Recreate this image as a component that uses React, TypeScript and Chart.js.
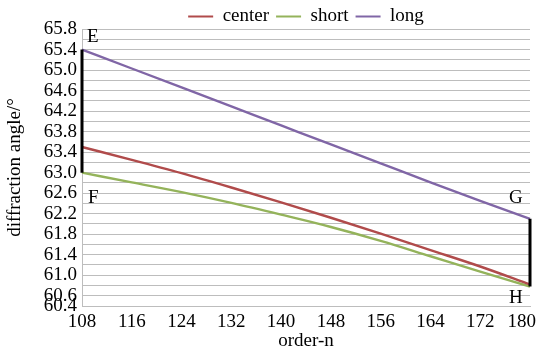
import React, { useEffect, useRef } from "react";
import { Chart, registerables } from "chart.js";

Chart.register(...registerables);

const orders = ["108", "116", "124", "132", "140", "148", "156", "164", "172", "180"];
const centerAngles = [63.5, 63.25, 62.99, 62.71, 62.42, 62.12, 61.81, 61.49, 61.17, 60.82];
const shortAngles = [63.0, 62.81, 62.62, 62.41, 62.18, 61.94, 61.67, 61.37, 61.07, 60.78];
const longAngles = [65.4, 65.03, 64.66, 64.29, 63.92, 63.55, 63.18, 62.81, 62.45, 62.1];
const seriesNames = ["center", "short", "long"];
const seriesColors = ["#B04B4B", "#94B35B", "#8066A6"];
const yGridValues = [
  60.4, 60.6, 60.8, 61.0, 61.2, 61.4, 61.6, 61.8, 62.0, 62.2, 62.4, 62.6, 62.8, 63.0,
  63.2, 63.4, 63.6, 63.8, 64.0, 64.2, 64.4, 64.6, 64.8, 65.0, 65.2, 65.4, 65.6, 65.8,
];
const yTickLabels = [
  "65.8", "65.4", "65.0", "64.6", "64.2", "63.8", "63.4", "63.0", "62.6", "62.2", "61.8",
  "61.4", "61.0", "60.6", "60.4",
];
const xTitle = "order-n";
const yTitle = "diffraction angle/°";
const markerLetters = ["E", "F", "G", "H"];

const FONT = "'Liberation Serif', 'Times New Roman', serif";
const GRID = "#BDBDBD";

const markerPlugin = {
  id: "markers",
  afterDatasetsDraw(chart: any) {
    const { ctx } = chart;
    const xs = chart.scales.x;
    const ys = chart.scales.y;
    const last = orders.length - 1;
    const x0 = xs.getPixelForValue(0);
    const x1 = xs.getPixelForValue(last);
    ctx.save();
    ctx.strokeStyle = "#000";
    ctx.lineWidth = 3;
    ctx.beginPath();
    ctx.moveTo(x0, ys.getPixelForValue(longAngles[0]));
    ctx.lineTo(x0, ys.getPixelForValue(shortAngles[0]));
    ctx.moveTo(x1, ys.getPixelForValue(longAngles[last]));
    ctx.lineTo(x1, ys.getPixelForValue(shortAngles[last]));
    ctx.stroke();
    ctx.fillStyle = "#000";
    ctx.font = "19px " + FONT;
    ctx.textAlign = "left";
    ctx.textBaseline = "alphabetic";
    ctx.fillText(markerLetters[0], x0 + 5, ys.getPixelForValue(yGridValues[yGridValues.length - 1]) + 12.5);
    ctx.fillText(markerLetters[1], x0 + 6, ys.getPixelForValue(shortAngles[0]) + 30);
    ctx.fillText(markerLetters[2], x1 - 21, ys.getPixelForValue(longAngles[last]) - 16);
    ctx.fillText(markerLetters[3], x1 - 21, ys.getPixelForValue(shortAngles[last]) + 16.5);
    ctx.restore();
  },
};

const legendHeightPlugin = {
  id: "legendHeight",
  beforeLayout(chart: any) {
    const lg = chart.legend;
    if (lg && !lg._patched) {
      const orig = lg.fit.bind(lg);
      lg.fit = function () {
        orig();
        this.height = 29;
      };
      lg._patched = true;
    }
  },
};

export default function App() {
  const ref = useRef<HTMLCanvasElement | null>(null);
  useEffect(() => {
    if (!ref.current) return;
    const series = [centerAngles, shortAngles, longAngles];
    const chart = new Chart(ref.current, {
      type: "line",
      data: {
        labels: orders,
        datasets: series.map((d, i) => ({
          label: seriesNames[i],
          data: d,
          borderColor: seriesColors[i],
          backgroundColor: seriesColors[i],
          borderWidth: 2.4,
          pointRadius: 0,
          tension: 0.4,
          cubicInterpolationMode: "monotone" as const,
          fill: false,
        })),
      },
      options: {
        responsive: false,
        animation: false,
        layout: { padding: { left: 0, right: 7, top: 0, bottom: 0 } },
        plugins: {
          legend: {
            position: "top",
            fullSize: false,
            align: "center",
            labels: {
              color: "#000",
              font: { family: FONT, size: 19 },
              boxWidth: 25,
              boxHeight: 2,
              padding: 7,
              generateLabels: (c: any) =>
                (Chart.defaults.plugins.legend.labels as any)
                  .generateLabels(c)
                  .map((l: any) => ({ ...l, lineWidth: 0 })),
            },
          },
          tooltip: { enabled: false },
        },
        scales: {
          x: {
            type: "category",
            offset: false,
            grid: { display: false, drawTicks: false },
            border: { display: true, color: GRID },
            ticks: {
              color: "#000",
              font: { family: FONT, size: 19 },
              padding: 5,
              maxRotation: 0,
              autoSkip: false,
            },
            title: {
              display: true,
              text: xTitle,
              color: "#000",
              font: { family: FONT, size: 19, lineHeight: 0.8 },
              padding: { top: 0, bottom: -1 },
            },
            afterFit: (s: any) => {
              s.height = 42;
              s.paddingLeft = 0;
              s.paddingRight = 0;
              if (!s._labelPatched) {
                const orig = s._computeLabelItems.bind(s);
                s._computeLabelItems = function (area: any) {
                  const items = orig(area);
                  if (items.length) {
                    const it = items[items.length - 1];
                    it.options = { ...it.options, textAlign: "right", translation: [it.options.translation[0] + 6, it.options.translation[1]] };
                  }
                  return items;
                };
                s._labelPatched = true;
              }
            },
          },
          y: {
            type: "linear",
            min: yGridValues[0],
            max: yGridValues[yGridValues.length - 1],
            afterBuildTicks: (s: any) => {
              s.ticks = yGridValues.map((v) => ({ value: v }));
            },
            grid: { color: GRID, drawTicks: false, lineWidth: 1 },
            border: { display: true, color: GRID },
            ticks: {
              color: "#000",
              font: { family: FONT, size: 19 },
              padding: 5,
              autoSkip: false,
              callback: (v: any) => {
                const t = Number(v).toFixed(1);
                return yTickLabels.includes(t) ? t : "";
              },
            },
            title: {
              display: true,
              text: yTitle,
              color: "#000",
              font: { family: FONT, size: 19 },
              padding: { top: 4, bottom: 0 },
            },
            afterFit: (s: any) => {
              s.width = 82;
            },
          },
        },
      },
      plugins: [markerPlugin, legendHeightPlugin],
    });
    return () => chart.destroy();
  }, []);
  return (
    <div style={{ position: "absolute", left: 0, top: 0, width: 537, height: 348 }}>
      <canvas ref={ref} width={537} height={348} style={{ display: "block", width: 537, height: 348 }} />
    </div>
  );
}
